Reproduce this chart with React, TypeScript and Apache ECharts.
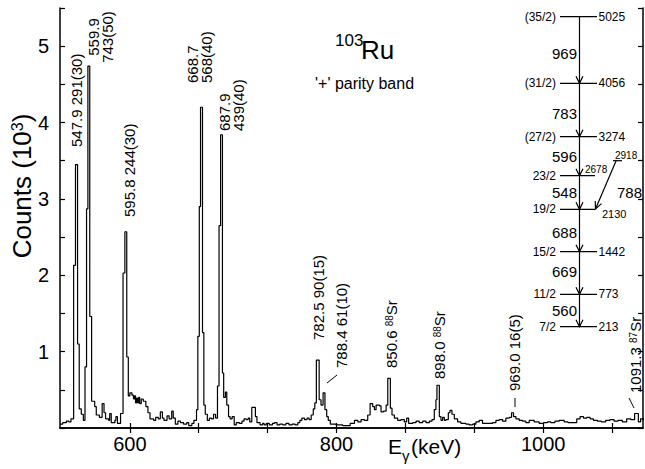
import React, { useEffect, useRef } from "react";
import * as echarts from "echarts";

// Gamma-ray energy (keV, left edge of each histogram step) and counts (10^3)
const energies = [
  532.4, 535, 538.5, 541, 543, 545.6, 547.4, 549.4, 551, 553, 555, 556.6, 558.1, 559.4, 561.2, 563, 566, 567.5,
  570.5, 573.2, 575, 576.5, 579.5, 580.5, 582, 585.5, 586.5, 588, 591, 593.4, 595.2, 597, 598.5, 600, 602, 603.5,
  604.5, 605.5, 606.5, 607.5, 608.5, 609.5, 611, 613, 615.5, 617.5, 619.5, 623, 625, 627.5, 629.5, 631.5, 633, 636,
  638, 640.5, 642, 644, 646.5, 649, 652, 655, 657, 660, 662, 664.5, 665.8, 667.2, 668.4, 670.3, 671.6, 673, 675,
  677, 679, 681, 683, 684.8, 686.3, 687.8, 689.6, 690.8, 692.5, 693.8, 695.5, 697, 699, 701, 703, 706, 708.5, 710.5,
  712.5, 714.5, 716, 718, 721.5, 723, 726, 728.5, 730, 732, 735, 738, 740, 742.5, 745, 748, 751, 754, 757, 760,
  762.5, 764.5, 766.5, 769, 771.5, 773.5, 775.5, 777.5, 779, 780.5, 783.2, 785, 787, 788.8, 790.5, 792, 794, 799.6,
  806, 813.2, 817.4, 820.6, 823.8, 827, 830.2, 832.5, 835, 836.7, 838.3, 841.5, 843.1, 845.4, 848, 849.6, 852.1,
  853.7, 856, 859.2, 862.4, 865.6, 867.9, 869.8, 873.7, 876.9, 880.1, 883.4, 886.6, 889.8, 892.4, 894.6, 896.2,
  897.2, 899.5, 901.1, 902.7, 904.3, 905.9, 908.2, 909.8, 911.7, 914, 917.2, 920.4, 925.2, 928.4, 931.7, 934.9,
  938.1, 941.3, 946.2, 951, 954.3, 957.5, 960.7, 963.9, 967.2, 969.4, 971.3, 973.6, 976.8, 980, 983.3, 986.5, 991.3,
  996.1, 1000.3, 1004.2, 1007.4, 1011.3, 1015.5, 1020.3, 1024.1, 1028.3, 1032.5, 1035.7, 1039, 1042.2, 1045.4,
  1048.6, 1052.5, 1056.3, 1060.5, 1064.7, 1068.6, 1072.4, 1076.6, 1080.8, 1084.7, 1088.5, 1092.1, 1094.3, 1097,
];
const counts = [
  0.05, 0.07, 0.09, 0.08, 0.12, 2.13, 3.45, 1.1, 0.25, 0.18, 0.1, 0.8, 2.87, 4.74, 1.46, 0.35, 0.28, 0.17,
  0.14, 0.32, 0.2, 0.12, 0.1, 0.19, 0.07, 0.1, 0.15, 0.06, 0.19, 2.03, 2.57, 0.93, 0.42, 0.46, 0.43, 0.38,
  0.42, 0.33, 0.39, 0.33, 0.4, 0.32, 0.38, 0.35, 0.28, 0.2, 0.12, 0.1, 0.14, 0.12, 0.21, 0.13, 0.1, 0.16,
  0.12, 0.22, 0.13, 0.05, 0.09, 0.07, 0.05, 0.07, 0.03, 0.06, 0.1, 0.24, 1.2, 2.9, 4.2, 1.25, 0.3, 0.18, 0.1,
  0.13, 0.12, 0.18, 0.13, 0.55, 2.65, 3.84, 0.72, 0.4, 0.47, 0.3, 0.15, 0.12, 0.15, 0.04, 0.07, 0.06, 0.09, 0.12,
  0.11, 0.13, 0.08, 0.27, 0.15, 0.07, 0.04, 0.06, 0.04, 0.06, 0.04, 0.06, 0.07, 0.04, 0.05, 0.04, 0.06, 0.04, 0.05, 0.04,
  0.07, 0.1, 0.13, 0.11, 0.13, 0.11, 0.17, 0.25, 0.33, 0.89, 0.37, 0.3, 0.46, 0.24, 0.15, 0.1, 0.05, 0.04,
  0.03, 0.06, 0.1, 0.08, 0.11, 0.1, 0.17, 0.32, 0.28, 0.24, 0.3, 0.29, 0.21, 0.22, 0.3, 0.65, 0.26,
  0.17, 0.13, 0.1, 0.11, 0.08, 0.13, 0.06, 0.07, 0.09, 0.07, 0.09, 0.07, 0.09, 0.11, 0.24, 0.37,
  0.56, 0.15, 0.1, 0.14, 0.1, 0.11, 0.2, 0.23, 0.18, 0.12, 0.08, 0.06, 0.05, 0.04, 0.05, 0.08,
  0.1, 0.06, 0.06, 0.07, 0.1, 0.11, 0.09, 0.13, 0.14, 0.2, 0.15, 0.12, 0.1, 0.09, 0.07, 0.1, 0.08,
  0.06, 0.07, 0.08, 0.07, 0.09, 0.1, 0.08, 0.07, 0.07, 0.12, 0.15, 0.13, 0.14, 0.12,
  0.1, 0.09, 0.08, 0.1, 0.11, 0.09, 0.1, 0.08, 0.12, 0.11, 0.19, 0.08, 0.12, 0.1,
];

const xMin = 532.4;
const xMax = 1096.6;
const xLabelValues = [600, 800, 1000];
const xTickValues = [600, 600 + 200 / 3, 600 + 400 / 3, 800, 800 + 200 / 3, 800 + 400 / 3, 1000, 1000 + 200 / 3];
const yMin = 0;
const yMax = 5.5;
const yTickStep = 0.5;

// Peak annotations
const peakLabels = [
  { text: "547.9 291(30)", x: 76.5, y: 147, align: "left" },
  { text: "559.9\n743(50)", x: 100.5, y: 37, align: "center" },
  { text: "595.8 244(30)", x: 129, y: 217, align: "left" },
  { text: "668.7\n568(40)", x: 199.5, y: 83, align: "left" },
  { text: "687.9\n439(40)", x: 231, y: 131, align: "left" },
  { text: "782.5 90(15)", x: 318, y: 340, align: "left" },
  { text: "788.4 61(10)", x: 341, y: 368, align: "left" },
  { text: "850.6 {sup|88}Sr", x: 391, y: 368, align: "left" },
  { text: "898.0 {sup|88}Sr", x: 439, y: 379, align: "left" },
  { text: "969.0 16(5)", x: 514, y: 391, align: "left" },
  { text: "1091.3 {sup|87}Sr", x: 635, y: 393, align: "left" },
];

// Level scheme
const levelEnergyLabels = ["5025", "4056", "3274", "2678", "2130", "1442", "773", "213"];
const levelSpins = ["(35/2)", "(31/2)", "(27/2)", "23/2", "19/2", "15/2", "11/2", "7/2"];
const transitionLabels = ["969", "783", "596", "548", "688", "669", "560"];

const FONT = '"Liberation Sans", Arial, sans-serif';

export default function App() {
  const ref = useRef<HTMLDivElement>(null);

  useEffect(() => {
    if (!ref.current) return;
    const chart = echarts.init(ref.current, null, { renderer: "svg" });

    const data = energies.map((e, i) => [e, counts[i]]);

    const g: any[] = [];
    const ln = (x1: number, y1: number, x2: number, y2: number, w = 1.2) =>
      g.push({ type: "line", shape: { x1, y1, x2, y2 }, style: { stroke: "#000", lineWidth: w }, z: 10 });
    const tx = (x: number, y: number, text: string, size: number, align = "left", va = "middle") =>
      g.push({
        type: "text",
        x,
        y,
        z: 10,
        style: { text, fontSize: size, fontFamily: FONT, fill: "#000", align, verticalAlign: va },
      });

    // peak labels (rotated)
    peakLabels.forEach((p) => {
      g.push({
        type: "text",
        x: p.x,
        y: p.y,
        rotation: Math.PI / 2,
        z: 10,
        style: {
          text: p.text,
          fontSize: 15,
          fontFamily: FONT,
          fill: "#000",
          align: p.align,
          verticalAlign: "middle",
          lineHeight: 14,
          rich: { sup: { fontSize: 10, fontFamily: FONT, verticalAlign: "top", lineHeight: 14 } },
        },
      });
    });
    // leader lines
    ln(327, 383, 337, 375, 1);
    ln(515, 398, 515, 407, 1);
    ln(629, 398, 634, 408, 1);

    // title
    tx(335, 40, "103", 17, "left", "middle");
    tx(361, 50, "Ru", 26, "left", "middle");
    tx(315, 83, "'+' parity band", 16, "left", "middle");

    // axis names
    g.push({
      type: "text",
      x: 22,
      y: 186,
      rotation: Math.PI / 2,
      z: 10,
      style: {
        text: "Counts (10{sup|3})",
        fontSize: 26,
        fontFamily: FONT,
        fill: "#000",
        align: "center",
        verticalAlign: "middle",
        rich: { sup: { fontSize: 16, fontFamily: FONT, verticalAlign: "top" } },
      },
    });
    tx(388, 446, "E", 21, "left", "middle");
    tx(402, 455, "γ", 15, "left", "middle");
    tx(411, 446, "(keV)", 21, "left", "middle");

    // level scheme
    const levelY = [16.7, 83.3, 136.7, 175.7, 209.3, 251.7, 294.3, 326.7];
    const transY = [53.3, 113.3, 156.7, 192.3, 232.3, 271.7, 310];
    const mx = 579.5;
    ln(mx, levelY[0], mx, levelY[7], 1.2);
    levelY.forEach((y, i) => {
      const x2 = i === 3 || i === 4 ? 595 : 597;
      ln(560, y, x2, y, 1.2);
      tx(556, y, levelSpins[i], 12, "right", "middle");
      if (i === 3) tx(585, 169, levelEnergyLabels[i], 10, "left", "middle");
      else if (i === 4) tx(602, 214, levelEnergyLabels[i], 11, "left", "middle");
      else tx(598.5, y, levelEnergyLabels[i], 12, "left", "middle");
      if (i > 0) {
        g.push({
          type: "polyline",
          z: 10,
          shape: { points: [[mx - 3.5, y - 7], [mx, y], [mx + 3.5, y - 7]] },
          style: { stroke: "#000", lineWidth: 1.2, fill: null },
        });
      }
    });
    transY.forEach((y, i) => tx(577, y, transitionLabels[i], 15, "right", "middle"));
    // side level 2918 and 788 transition
    ln(613, 160.7, 622, 160.7, 1.2);
    tx(615, 155, "2918", 10, "left", "middle");
    const S = [616, 161];
    const T = [595.5, 209];
    ln(S[0], S[1], T[0], T[1], 1.2);
    {
      const dx = T[0] - S[0];
      const dy = T[1] - S[1];
      const L = Math.hypot(dx, dy);
      const ux = dx / L;
      const uy = dy / L;
      const a = (25 * Math.PI) / 180;
      const w = 8;
      const r = (ang: number) => [
        T[0] - w * (ux * Math.cos(ang) - uy * Math.sin(ang)),
        T[1] - w * (ux * Math.sin(ang) + uy * Math.cos(ang)),
      ];
      g.push({
        type: "polyline",
        z: 10,
        shape: { points: [r(a), T, r(-a)] },
        style: { stroke: "#000", lineWidth: 1.2, fill: null },
      });
    }
    tx(617, 192, "788", 15, "left", "middle");

    const axisLine = { show: true, lineStyle: { color: "#000", width: 1.5 } };

    chart.setOption({
      animation: false,
      backgroundColor: "#fff",
      grid: { left: 60, right: 2, top: 8, bottom: 41, containLabel: false },
      xAxis: [
        {
          type: "value",
          min: xMin,
          max: xMax,
          position: "bottom",
          axisLine,
          splitLine: { show: false },
          axisTick: { show: true, inside: true, length: 5, customValues: xTickValues, lineStyle: { color: "#000", width: 1.2 } },
          axisLabel: {
            show: true,
            customValues: xLabelValues,
            color: "#000",
            fontSize: 20,
            fontFamily: FONT,
            margin: 6,
            formatter: (v: number) => String(Math.round(v)),
          },
        },
        {
          type: "value",
          min: xMin,
          max: xMax,
          position: "top",
          axisLine,
          splitLine: { show: false },
          axisTick: { show: true, inside: true, length: 5, customValues: xTickValues, lineStyle: { color: "#000", width: 1.2 } },
          axisLabel: { show: false },
        },
      ],
      yAxis: [
        {
          type: "value",
          min: yMin,
          max: yMax,
          interval: yTickStep,
          position: "left",
          axisLine,
          splitLine: { show: false },
          axisTick: { show: true, inside: true, length: 5, lineStyle: { color: "#000", width: 1.2 } },
          axisLabel: {
            color: "#000",
            fontSize: 20,
            fontFamily: FONT,
            margin: 11,
            formatter: (v: number) => (Number.isInteger(v) && v > 0 && v < 5.5 ? String(v) : ""),
          },
        },
        {
          type: "value",
          min: yMin,
          max: yMax,
          interval: yTickStep,
          position: "right",
          axisLine,
          splitLine: { show: false },
          axisTick: { show: true, inside: true, length: 5, lineStyle: { color: "#000", width: 1.2 } },
          axisLabel: { show: false },
        },
      ],
      series: [
        {
          type: "line",
          xAxisIndex: 0,
          yAxisIndex: 0,
          step: "end",
          data,
          symbol: "none",
          clip: true,
          lineStyle: { color: "#000", width: 1.2 },
        },
      ],
      graphic: g,
    });

    return () => chart.dispose();
  }, []);

  return <div ref={ref} style={{ position: "fixed", left: 0, top: 0, width: 645, height: 469, background: "#fff" }} />;
}
